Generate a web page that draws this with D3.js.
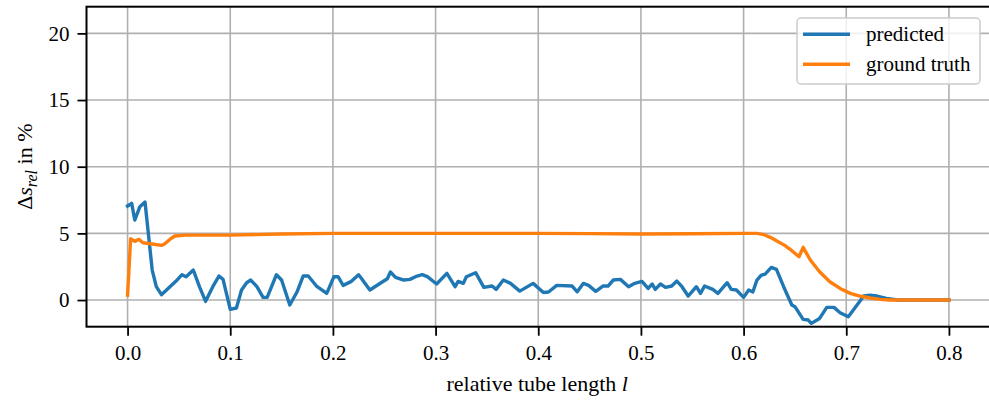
<!DOCTYPE html>
<html><head><meta charset="utf-8">
<script src="https://cdn.jsdelivr.net/npm/d3@7"></script>
<style>body{margin:0;background:#fff}</style>
</head><body>
<script>
const xTicks = [0.0, 0.1, 0.2, 0.3, 0.4, 0.5, 0.6, 0.7, 0.8];
const yTicks = [0, 5, 10, 15, 20];
const seriesNames = ["predicted", "ground truth"];
const predX = [0.000,0.004,0.007,0.012,0.017,0.024,0.028,0.033,0.040,0.047,0.053,0.057,0.064,0.070,0.076,0.083,0.089,0.093,0.100,0.106,0.111,0.116,0.120,0.126,0.132,0.136,0.145,0.150,0.158,0.165,0.171,0.176,0.184,0.194,0.201,0.205,0.210,0.218,0.225,0.228,0.236,0.245,0.253,0.256,0.261,0.269,0.275,0.282,0.287,0.292,0.301,0.311,0.319,0.322,0.327,0.330,0.339,0.347,0.355,0.359,0.366,0.373,0.382,0.395,0.405,0.410,0.418,0.433,0.438,0.444,0.449,0.456,0.463,0.468,0.473,0.480,0.488,0.494,0.501,0.507,0.511,0.514,0.519,0.524,0.530,0.535,0.540,0.546,0.554,0.558,0.562,0.570,0.575,0.584,0.588,0.593,0.600,0.605,0.609,0.613,0.617,0.621,0.627,0.632,0.639,0.647,0.650,0.658,0.663,0.666,0.674,0.681,0.688,0.694,0.702,0.717,0.723,0.730,0.739,0.750,0.800];
const predY = [7.05,7.25,6.0,7.0,7.35,2.25,1.0,0.4,0.9,1.4,1.9,1.75,2.25,1.0,-0.1,1.0,1.8,1.55,-0.7,-0.6,0.75,1.3,1.5,1.0,0.2,0.2,1.9,1.5,-0.37,0.6,1.8,1.8,1.05,0.5,1.75,1.75,1.1,1.4,1.9,1.6,0.75,1.2,1.6,2.1,1.7,1.5,1.55,1.8,1.9,1.75,1.2,2.0,1.0,1.4,1.25,1.75,2.05,0.95,1.05,0.8,1.5,1.25,0.67,1.25,0.57,0.6,1.1,1.05,0.62,1.25,1.1,0.65,1.05,1.05,1.5,1.55,1.0,1.25,1.4,0.87,1.2,0.8,1.2,0.95,1.05,1.42,1.0,0.3,1.0,0.5,1.05,0.8,0.5,1.3,0.8,0.75,0.2,0.75,0.6,1.5,1.85,1.95,2.45,2.3,1.0,-0.37,-0.5,-1.45,-1.5,-1.75,-1.38,-0.55,-0.55,-0.95,-1.25,0.3,0.37,0.3,0.12,0.0,0.0];
const truthX = [0.000,0.003,0.007,0.011,0.015,0.024,0.033,0.036,0.042,0.046,0.056,0.100,0.150,0.200,0.300,0.400,0.450,0.500,0.550,0.600,0.613,0.620,0.626,0.632,0.640,0.647,0.654,0.658,0.665,0.674,0.684,0.694,0.704,0.713,0.723,0.733,0.742,0.800];
const truthY = [0.37,4.6,4.4,4.55,4.3,4.2,4.1,4.2,4.6,4.8,4.87,4.87,4.95,5.0,5.0,5.0,4.98,4.95,4.97,5.0,5.0,4.9,4.7,4.45,4.1,3.7,3.25,3.95,3.0,2.12,1.37,0.87,0.5,0.3,0.15,0.05,0.0,0.0];
const colors = ["#1f77b4", "#ff7f0e"];

const FONT = "Liberation Serif";
const W = 989, H = 405;
const L = 86.5, R = 990, T = 6.7, B = 326.7;
const svg = d3.select("body").append("svg").attr("width", W).attr("height", H);
const x = d3.scaleLinear().domain([-0.04, 0.84]).range([L, R]);
const y = d3.scaleLinear().domain([-2, 22]).range([B, T]);

// grid
const grid = svg.append("g");
grid.selectAll(".gx").data(xTicks).enter().append("line")
  .attr("x1", d => x(d)).attr("x2", d => x(d)).attr("y1", T).attr("y2", B)
  .attr("stroke", "#b0b0b0").attr("stroke-width", 1.6);
grid.selectAll(".gy").data(yTicks).enter().append("line")
  .attr("x1", L).attr("x2", R).attr("y1", d => y(d)).attr("y2", d => y(d))
  .attr("stroke", "#b0b0b0").attr("stroke-width", 1.6);

// lines
const line = d3.line().x(d => x(d[0])).y(d => y(d[1]));
const lines = svg.append("g");
lines.append("path").datum(predX.map((v, i) => [v, predY[i]]))
  .attr("d", line).attr("fill", "none").attr("stroke", colors[0]).attr("stroke-width", 3.4).attr("stroke-linejoin", "round").attr("stroke-linecap", "square");
lines.append("path").datum(truthX.map((v, i) => [v, truthY[i]]))
  .attr("d", line).attr("fill", "none").attr("stroke", colors[1]).attr("stroke-width", 3.4).attr("stroke-linejoin", "round").attr("stroke-linecap", "square");

// axes
const xAxis = d3.axisBottom(x).tickValues(xTicks).tickFormat(d3.format(".1f")).tickSize(9).tickPadding(9);
const yAxis = d3.axisLeft(y).tickValues(yTicks).tickFormat(d3.format("d")).tickSize(9).tickPadding(8);
const gx = svg.append("g").attr("transform", `translate(0,${B})`).call(xAxis).attr("font-family", FONT).attr("font-size", 21);
const gy = svg.append("g").attr("transform", `translate(${L},0)`).call(yAxis).attr("font-family", FONT).attr("font-size", 21);
[gx, gy].forEach(g => {
  g.select(".domain").remove();
  g.selectAll(".tick line").attr("stroke", "#000").attr("stroke-width", 1.8);
  g.selectAll(".tick text").attr("fill", "#000");
});

// spines
svg.append("rect").attr("x", L).attr("y", T).attr("width", R - L).attr("height", B - T)
  .attr("fill", "none").attr("stroke", "#000").attr("stroke-width", 2);

// axis labels
const xl = svg.append("text").attr("x", (L + R) / 2 - 1).attr("y", 391).attr("text-anchor", "middle")
  .attr("font-family", FONT).attr("font-size", 22);
xl.append("tspan").text("relative tube length ");
xl.append("tspan").attr("font-style", "italic").text("l");

const yl = svg.append("text").attr("transform", `translate(32,${(T + B) / 2}) rotate(-90)`).attr("text-anchor", "middle")
  .attr("font-family", FONT).attr("font-size", 22);
yl.append("tspan").text("Δ");
yl.append("tspan").attr("font-style", "italic").text("s");
yl.append("tspan").attr("font-style", "italic").attr("dy", 5).attr("font-size", 16).text("rel");
yl.append("tspan").attr("dy", -5).text(" in %");

// legend
const lg = svg.append("g");
lg.append("rect").attr("x", 797).attr("y", 18).attr("width", 183).attr("height", 66).attr("rx", 4)
  .attr("fill", "#fff").attr("fill-opacity", 0.8).attr("stroke", "#cccccc").attr("stroke-width", 1.5);
seriesNames.forEach((n, i) => {
  const yy = 34.3 + i * 30;
  lg.append("line").attr("x1", 803).attr("x2", 850).attr("y1", yy).attr("y2", yy).attr("stroke", colors[i]).attr("stroke-width", 3.4);
  lg.append("text").attr("x", 866).attr("y", yy + 7).attr("font-family", FONT).attr("font-size", 21).text(n);
});

// force font resolution
svg.selectAll("text").each(function () { this.getComputedTextLength(); });
</script>
</body></html>
